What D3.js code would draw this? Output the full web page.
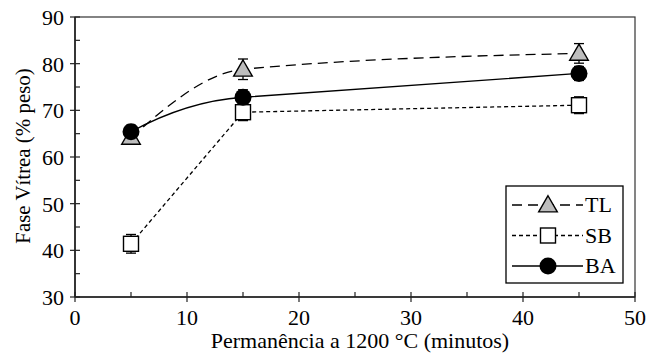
<!DOCTYPE html>
<html>
<head>
<meta charset="utf-8">
<script src="https://cdn.jsdelivr.net/npm/d3@7"></script>
</head>
<body style="margin:0">
<script>
// data
const minutes = [5, 15, 45];
const tlValues = [64.2, 78.8, 82.2];
const tlErr = [1.2, 2.2, 2.1];
const sbValues = [41.4, 69.6, 71.1];
const sbErr = [2.0, 1.8, 1.8];
const baValues = [65.4, 72.8, 77.9];
const baErr = [1.4, 1.6, 1.5];
const xTicks = [0, 10, 20, 30, 40, 50];
const yTicks = [30, 40, 50, 60, 70, 80, 90];
const seriesNames = ['TL', 'SB', 'BA'];

const width = 648, height = 354;
const margin = { top: 17, right: 13, bottom: 57, left: 75 };
const iw = width - margin.left - margin.right;
const ih = height - margin.top - margin.bottom;
// serif face only gets picked at 22px here, so keep that size
const fontFam = '"Liberation Serif"';
const fontSize = '22px';

const svg = d3.select('body').append('svg')
  .attr('width', width)
  .attr('height', height);

const g = svg.append('g').attr('transform', `translate(${margin.left},${margin.top})`);

const x = d3.scaleLinear().domain([0, 50]).range([0, iw]);
const y = d3.scaleLinear().domain([30, 90]).range([ih, 0]);

// frame
g.append('rect')
  .attr('width', iw).attr('height', ih)
  .attr('fill', 'none').attr('stroke', '#333').attr('stroke-width', 1.2);

// major ticks (crossing) and minor ticks (inside)
const axisColor = '#222';
g.selectAll('.xmaj').data(xTicks).join('line')
  .attr('x1', d => x(d)).attr('x2', d => x(d))
  .attr('y1', ih - 5).attr('y2', ih + 5)
  .attr('stroke', axisColor).attr('stroke-width', 1.2);
g.selectAll('.xmin').data(d3.range(5, 50, 10)).join('line')
  .attr('x1', d => x(d)).attr('x2', d => x(d))
  .attr('y1', ih - 5).attr('y2', ih)
  .attr('stroke', axisColor).attr('stroke-width', 1.2);
g.selectAll('.ymaj').data(yTicks).join('line')
  .attr('x1', -5).attr('x2', 5)
  .attr('y1', d => y(d)).attr('y2', d => y(d))
  .attr('stroke', axisColor).attr('stroke-width', 1.2);
g.selectAll('.ymin').data(d3.range(35, 90, 10)).join('line')
  .attr('x1', 0).attr('x2', 5)
  .attr('y1', d => y(d)).attr('y2', d => y(d))
  .attr('stroke', axisColor).attr('stroke-width', 1.2);

// axis lines a bit heavier
g.append('line').attr('x1', 0).attr('x2', iw).attr('y1', ih).attr('y2', ih)
  .attr('stroke', axisColor).attr('stroke-width', 1.6);
g.append('line').attr('x1', 0).attr('x2', 0).attr('y1', 0).attr('y2', ih)
  .attr('stroke', axisColor).attr('stroke-width', 1.6);

// tick labels
g.selectAll('.xlab').data(xTicks).join('text')
  .attr('x', d => x(d)).attr('y', ih + 28)
  .attr('text-anchor', 'middle')
  .style('font-family', fontFam)
  .style('font-size', fontSize)
  .text(d => d);
g.selectAll('.ylab').data(yTicks).join('text')
  .attr('x', -11).attr('y', d => y(d) + 8)
  .attr('text-anchor', 'end')
  .style('font-family', fontFam)
  .style('font-size', fontSize)
  .text(d => d);

// axis titles
svg.append('text')
  .attr('x', margin.left + iw / 2 + 5).attr('y', 348)
  .attr('text-anchor', 'middle')
  .style('font-family', fontFam)
  .style('font-size', fontSize)
  .text('Permanência a 1200 °C (minutos)');
svg.append('text')
  .attr('transform', `translate(30,156) rotate(-90) scale(0.95)`)
  .attr('text-anchor', 'middle')
  .style('font-family', fontFam)
  .style('font-size', fontSize)
  .text('Fase Vítrea (% peso)');

const pts = vals => minutes.map((m, i) => [x(m), y(vals[i])]);
const curved = d3.line().curve(d3.curveMonotoneX);
const straight = d3.line();

// curve into the second point, then straight on (tangent follows the last segment)
function bentLine(p) {
  const path = d3.path();
  const [p0, p1, p2] = p;
  const slope = (p2[1] - p1[1]) / (p2[0] - p1[0]);
  const cx = (p0[0] + p1[0]) / 2;
  const cy = p1[1] - slope * (p1[0] - cx);
  path.moveTo(p0[0], p0[1]);
  path.quadraticCurveTo(cx, cy, p1[0], p1[1]);
  path.lineTo(p2[0], p2[1]);
  return path.toString();
}

// lines
g.append('path').attr('d', curved(pts(tlValues)))
  .attr('fill', 'none').attr('stroke', '#000').attr('stroke-width', 1.3)
  .attr('stroke-dasharray', '10,6');
g.append('path').attr('d', straight(pts(sbValues)))
  .attr('fill', 'none').attr('stroke', '#000').attr('stroke-width', 1.3)
  .attr('stroke-dasharray', '4,3');
g.append('path').attr('d', bentLine(pts(baValues)))
  .attr('fill', 'none').attr('stroke', '#000').attr('stroke-width', 1.3);

// error bars
function errBars(vals, errs) {
  const grp = g.append('g');
  minutes.forEach((m, i) => {
    const cx = x(m);
    const y1 = y(vals[i] + errs[i]), y2 = y(vals[i] - errs[i]);
    grp.append('line').attr('x1', cx).attr('x2', cx).attr('y1', y1).attr('y2', y2)
      .attr('stroke', '#000').attr('stroke-width', 1.3);
    [y1, y2].forEach(yy => grp.append('line')
      .attr('x1', cx - 5).attr('x2', cx + 5).attr('y1', yy).attr('y2', yy)
      .attr('stroke', '#000').attr('stroke-width', 1.3));
  });
}
errBars(tlValues, tlErr);
errBars(sbValues, sbErr);
errBars(baValues, baErr);

const triSym = d3.symbol().type(d3.symbolTriangle).size(150);

function triangle(sel, cx, cy) {
  sel.append('path').attr('d', triSym())
    .attr('transform', `translate(${cx},${cy + 1.5})`)
    .attr('fill', '#bdbdbd').attr('stroke', '#000').attr('stroke-width', 1.4);
}
function square(sel, cx, cy) {
  sel.append('rect').attr('x', cx - 7.5).attr('y', cy - 7.5)
    .attr('width', 15).attr('height', 15)
    .attr('fill', '#fff').attr('stroke', '#000').attr('stroke-width', 1.4);
}
function circle(sel, cx, cy) {
  sel.append('circle').attr('cx', cx).attr('cy', cy).attr('r', 8.5)
    .attr('fill', '#000');
}

minutes.forEach((m, i) => triangle(g, x(m), y(tlValues[i])));
minutes.forEach((m, i) => square(g, x(m), y(sbValues[i])));
minutes.forEach((m, i) => circle(g, x(m), y(baValues[i])));

// legend
const leg = svg.append('g').attr('transform', 'translate(506,186)');
leg.append('rect').attr('width', 117).attr('height', 97)
  .attr('fill', '#fff').attr('stroke', '#000').attr('stroke-width', 1.3);
const dashes = ['10,6', '4,3', null];
const marks = [triangle, square, circle];
seriesNames.forEach((name, i) => {
  const ry = 19 + i * 30.5;
  const ln = leg.append('line').attr('x1', 6).attr('x2', 77).attr('y1', ry).attr('y2', ry)
    .attr('stroke', '#000').attr('stroke-width', 1.3);
  if (dashes[i]) ln.attr('stroke-dasharray', dashes[i]);
  marks[i](leg, 42, ry);
  leg.append('text').attr('x', 79).attr('y', ry + 7)
    .style('font-family', fontFam)
    .style('font-size', fontSize).text(name);
});
</script>
</body>
</html>
